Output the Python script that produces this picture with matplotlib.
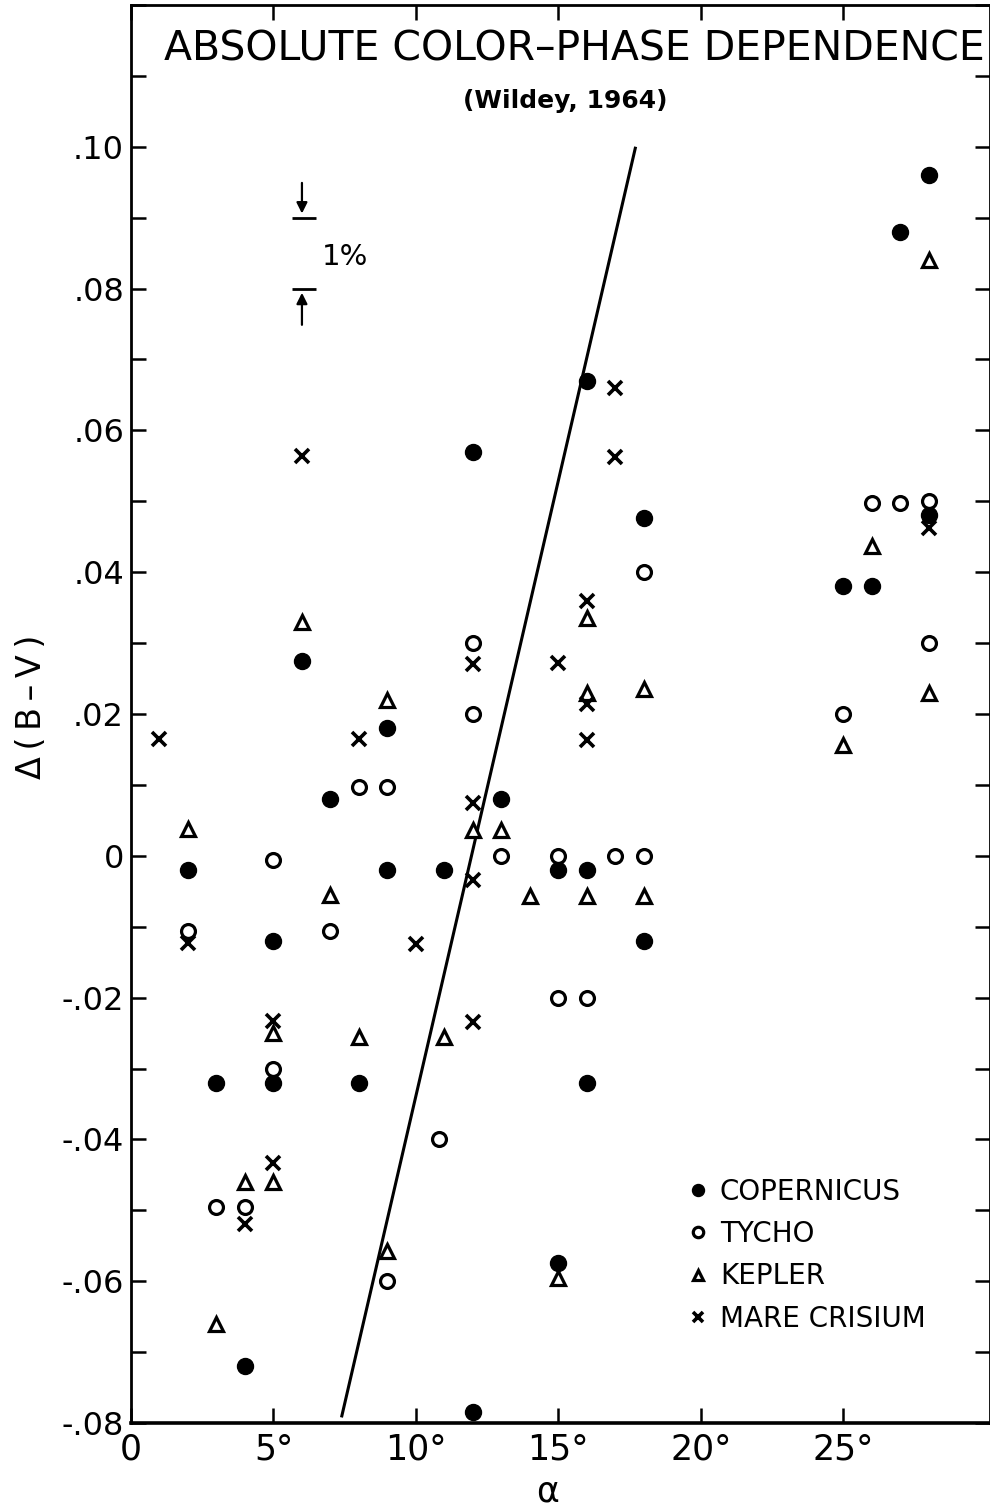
import matplotlib
matplotlib.use("Agg")
import matplotlib.pyplot as plt
from matplotlib.ticker import MultipleLocator

# ---------------- data ----------------
cop_alpha = [2, 3, 4, 5, 5, 6, 7, 8, 9, 9, 11, 12, 12, 13, 15, 15, 16, 16, 16, 18, 18, 25, 26, 27, 28, 28]
cop_dbv = [-0.002, -0.032, -0.072, -0.012, -0.032, 0.0275, 0.008, -0.032, 0.018, -0.002,
           -0.002, 0.057, -0.0785, 0.008, -0.002, -0.0574, 0.067, -0.002, -0.032, 0.0476,
           -0.012, 0.038, 0.038, 0.088, 0.096, 0.048]

tyc_alpha = [2, 3, 4, 5, 5, 7, 8, 9, 9, 10.8, 12, 12, 13, 15, 15, 16, 17, 18, 18, 25, 26, 27, 28, 28]
tyc_dbv = [-0.0106, -0.0496, -0.0496, -0.0006, -0.030, -0.0106, 0.0097, 0.0097, -0.060, -0.040,
           0.030, 0.020, 0.0, 0.0, -0.020, -0.020, 0.0, 0.0, 0.040, 0.020, 0.0497, 0.0497,
           0.050, 0.030]

kep_alpha = [2, 3, 4, 5, 5, 6, 7, 8, 9, 9, 11, 12, 13, 14, 15, 16, 16, 16, 18, 18, 25, 26, 28, 28]
kep_dbv = [0.0038, -0.066, -0.046, -0.025, -0.046, 0.033, -0.0055, -0.0255, 0.022, -0.0557,
           -0.0255, 0.0037, 0.0037, -0.0056, -0.0596, 0.0335, 0.023, -0.0056, 0.0235, -0.0056,
           0.0156, 0.0437, 0.023, 0.084]

mar_alpha = [1, 2, 4, 5, 5, 6, 8, 10, 12, 12, 12, 12, 15, 16, 16, 16, 17, 17, 28]
mar_dbv = [0.0165, -0.0123, -0.052, -0.0233, -0.0433, 0.0564, 0.0165, -0.0124, 0.027, 0.0075,
           -0.0034, -0.0235, 0.0272, 0.036, 0.0214, 0.0164, 0.066, 0.0562, 0.0462]

fit_alpha = [7.4, 17.7]
fit_dbv = [-0.079, 0.0998]

series_names = ["COPERNICUS", "TYCHO", "KEPLER", "MARE CRISIUM"]

xtick_values = [0, 5, 10, 15, 20, 25]
xtick_labels = ["0", "5°", "10°", "15°", "20°", "25°"]
ytick_values = [0.10, 0.08, 0.06, 0.04, 0.02, 0.0, -0.02, -0.04, -0.06, -0.08]
ytick_labels = [".10", ".08", ".06", ".04", ".02", "0", "-.02", "-.04", "-.06", "-.08"]

title_text = "ABSOLUTE COLOR\u2013PHASE DEPENDENCE"
subtitle_text = "(Wildey, 1964)"
ylabel_text = "\u0394\u2009(\u2009B\u2009\u2013\u2009V\u2009)"

# ---------------- figure ----------------
plt.rcParams['font.family'] = ['DejaVu Sans']
W, H = 990, 1509
fig = plt.figure(figsize=(W / 100, H / 100), dpi=100)
ax_left, ax_right, ax_top, ax_bottom = 131, 990, 5, 1423
ax = fig.add_axes([ax_left / W, (H - ax_bottom) / H, (ax_right - ax_left) / W, (ax_bottom - ax_top) / H])

ax.set_xlim(0, 30.15)
ax.set_ylim(-0.08, 0.12)

ax.plot(fit_alpha, fit_dbv, color='black', lw=2.2, zorder=1)

ax.plot(cop_alpha, cop_dbv, 'o', color='black', ms=11.5, ls='none', label=series_names[0], zorder=3)
ax.plot(tyc_alpha, tyc_dbv, 'o', mfc='white', mec='black', mew=2.3, ms=10, ls='none', label=series_names[1], zorder=3)
ax.plot(kep_alpha, kep_dbv, '^', mfc='white', mec='black', mew=2.3, ms=10, ls='none', label=series_names[2], zorder=3)
ax.plot(mar_alpha, mar_dbv, 'x', color='black', mew=2.6, ms=9.5, ls='none', label=series_names[3], zorder=3)

# spines & ticks
for s in ax.spines.values():
    s.set_linewidth(2.0)
ax.spines['bottom'].set_linewidth(2.6)

ax.set_xticks(xtick_values)
ax.set_xticklabels(xtick_labels)
ax.set_yticks(ytick_values)
ax.set_yticklabels(ytick_labels)
ax.yaxis.set_minor_locator(MultipleLocator(0.01))
ax.tick_params(axis='both', which='both', direction='in', length=10.5, width=1.8,
               top=True, right=True)
ax.tick_params(axis='y', which='major', pad=5, labelsize=23)
ax.tick_params(axis='x', which='major', pad=7, labelsize=25)
ax.tick_params(axis='x', which='minor', bottom=False, top=False)

ax.set_ylabel(ylabel_text, fontsize=24)
ax.yaxis.set_label_coords(-0.0965, 0.505)
ax.set_xlabel("\u03b1", fontsize=25)
ax.xaxis.set_label_coords(0.4855, -0.036)

ax.text(0.5157, 0.9683, title_text, transform=ax.transAxes, ha='center', va='center',
        fontsize=29.5)
ax.text(0.505, 0.9323, subtitle_text, transform=ax.transAxes, ha='center', va='center',
        fontsize=18, fontweight='bold')

# 1% scale indicator
ax.hlines([0.09, 0.08], 5.65, 6.5, color='black', lw=2)
ax.annotate('', xy=(6, 0.0902), xytext=(6, 0.0953),
            arrowprops=dict(arrowstyle='-|>', color='black', lw=1.6, mutation_scale=16))
ax.annotate('', xy=(6, 0.0798), xytext=(6, 0.0745),
            arrowprops=dict(arrowstyle='-|>', color='black', lw=1.6, mutation_scale=16))
ax.text(6.7, 0.0845, "1%", ha='left', va='center', fontsize=21)

leg = ax.legend(loc='upper left', bbox_to_anchor=(0.645, 0.1731), frameon=False,
                fontsize=20, borderpad=0, borderaxespad=0, handlelength=0.95,
                handletextpad=0.3, labelspacing=0.52, markerscale=0.75)

fig.savefig("out.png", dpi=100, facecolor='white')
